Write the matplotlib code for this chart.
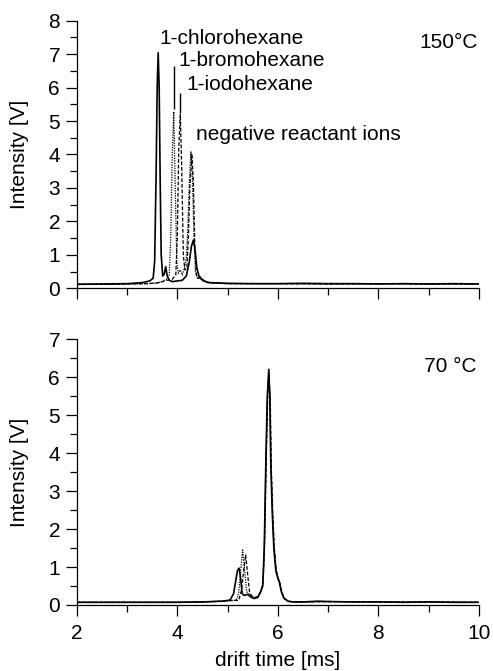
import matplotlib
matplotlib.use("Agg")
import matplotlib.pyplot as plt
from matplotlib.ticker import MultipleLocator

plt.rcParams['font.family'] = ['Liberation Sans', 'DejaVu Sans']

# ---------------- 150 °C data ----------------
chloro150_x = [2.0, 2.5, 3.0, 3.3, 3.45, 3.52, 3.55, 3.58, 3.60, 3.62, 3.64, 3.66, 3.68, 3.71,
               3.74, 3.77, 3.80, 3.84, 3.90, 4.00, 4.10, 4.18, 4.24, 4.28, 4.32, 4.35, 4.39,
               4.44, 4.52, 4.65, 5.0, 5.5, 6.0, 6.5, 7.0, 7.5, 8.0, 8.5, 9.0, 9.5, 10.0]
chloro150_y = [0.12, 0.13, 0.14, 0.17, 0.22, 0.30, 0.8, 3.5, 6.0, 7.04, 6.0, 3.2, 1.0, 0.37,
               0.42, 0.65, 0.37, 0.24, 0.20, 0.22, 0.24, 0.37, 0.8, 1.25, 1.44, 1.2, 0.6,
               0.32, 0.22, 0.17, 0.15, 0.14, 0.14, 0.15, 0.14, 0.14, 0.13, 0.14, 0.13, 0.14, 0.13]

bromo150_x = [2.0, 2.5, 3.0, 3.4, 3.6, 3.7, 3.78, 3.84, 3.87, 3.90, 3.93, 3.96, 3.99, 4.02,
              4.06, 4.10, 4.14, 4.18, 4.21, 4.24, 4.27, 4.30, 4.33, 4.36, 4.40, 4.45, 4.5,
              4.6, 5.0, 6.0, 7.0, 8.0, 9.0, 10.0]
bromo150_y = [0.12, 0.12, 0.13, 0.14, 0.16, 0.20, 0.27, 0.4, 1.5, 4.0, 5.28, 3.0, 0.8, 0.45,
              0.55, 0.4, 0.6, 0.9, 1.8, 3.2, 4.08, 3.4, 1.6, 0.5, 0.3, 0.35, 0.27,
              0.17, 0.14, 0.14, 0.13, 0.14, 0.13, 0.13]

iodo150_x = [2.0, 2.5, 3.0, 3.4, 3.6, 3.8, 3.9, 3.97, 4.00, 4.03, 4.06, 4.09, 4.12, 4.15,
             4.19, 4.22, 4.25, 4.29, 4.32, 4.35, 4.38, 4.42, 4.46, 4.5, 4.6, 5.0, 6.0,
             7.0, 8.0, 9.0, 10.0]
iodo150_y = [0.12, 0.12, 0.13, 0.14, 0.16, 0.24, 0.27, 0.4, 1.5, 4.2, 5.2, 3.5, 1.0, 0.55,
             0.6, 1.5, 3.0, 4.0, 3.2, 1.2, 0.4, 0.3, 0.35, 0.27, 0.17, 0.14, 0.14,
             0.13, 0.14, 0.13, 0.13]

# ---------------- 70 °C data ----------------
chloro70_x = [2.0, 2.5, 3.0, 3.5, 4.0, 4.5, 4.9, 5.05, 5.12, 5.17, 5.20, 5.23, 5.26, 5.29,
              5.33, 5.40, 5.47, 5.53, 5.60, 5.66, 5.70, 5.73, 5.76, 5.79, 5.82, 5.84, 5.86,
              5.89, 5.92, 5.96, 6.00, 6.03, 6.07, 6.12, 6.2, 6.3, 6.5, 6.8, 7.0, 7.5, 8.0,
              8.5, 9.0, 9.5, 10.0]
chloro70_y = [0.07, 0.07, 0.07, 0.07, 0.07, 0.08, 0.10, 0.13, 0.3, 0.7, 0.92, 0.97, 0.7, 0.3,
              0.25, 0.28, 0.20, 0.17, 0.20, 0.35, 0.5, 1.5, 3.7, 5.5, 6.21, 5.5, 3.7,
              2.4, 1.5, 0.9, 0.7, 0.6, 0.35, 0.18, 0.10, 0.08, 0.08, 0.10, 0.09, 0.08, 0.08,
              0.07, 0.08, 0.07, 0.07]

bromo70_x = [2.0, 2.5, 3.0, 3.5, 4.0, 4.5, 4.9, 5.1, 5.17, 5.22, 5.26, 5.30, 5.34, 5.38,
             5.45, 5.55, 5.62, 5.67, 5.70, 5.73, 5.76, 5.79, 5.82, 5.84, 5.86, 5.89, 5.92,
             5.96, 6.00, 6.03, 6.07, 6.12, 6.2, 6.3, 6.5, 7.0, 8.0, 9.0, 10.0]
bromo70_y = [0.07, 0.07, 0.07, 0.07, 0.07, 0.08, 0.10, 0.12, 0.12, 0.3, 0.9, 1.45, 0.9, 0.35,
             0.25, 0.18, 0.25, 0.4, 0.55, 1.5, 3.6, 5.4, 6.1, 5.5, 3.8, 2.5, 1.6,
             0.95, 0.72, 0.6, 0.35, 0.18, 0.10, 0.08, 0.08, 0.09, 0.08, 0.08, 0.07]

iodo70_x = [2.0, 2.5, 3.0, 3.5, 4.0, 4.5, 4.9, 5.1, 5.22, 5.28, 5.32, 5.36, 5.40, 5.44,
            5.50, 5.58, 5.64, 5.68, 5.71, 5.74, 5.77, 5.80, 5.82, 5.85, 5.87, 5.90, 5.93,
            5.97, 6.01, 6.04, 6.08, 6.13, 6.2, 6.3, 6.5, 7.0, 8.0, 9.0, 10.0]
iodo70_y = [0.07, 0.07, 0.07, 0.07, 0.07, 0.08, 0.10, 0.12, 0.12, 0.4, 0.9, 1.32, 0.8, 0.3,
            0.22, 0.2, 0.3, 0.45, 0.7, 1.8, 3.9, 5.6, 6.05, 5.4, 3.6, 2.4, 1.5,
            0.9, 0.7, 0.58, 0.33, 0.17, 0.10, 0.08, 0.08, 0.09, 0.08, 0.08, 0.07]

# annotation labels (150 °C)
label_texts = ["1-chlorohexane", "1-bromohexane", "1-iodohexane", "negative reactant ions"]
label_x = [3.64, 4.03, 4.19, 4.38]
label_y = [7.48, 6.82, 6.10, 4.60]
marker_x = [3.94, 4.06]
marker_ymin = [5.35, 5.25]
marker_ymax = [6.65, 5.85]

FS = 15

fig = plt.figure(figsize=(4.93, 6.71), dpi=100)
ax1 = fig.add_axes([0.1556, 0.5703, 0.816, 0.3989])
ax2 = fig.add_axes([0.1556, 0.0984, 0.816, 0.3959])

lw_solid = 1.2
lw_other = 0.9
for ax, (cx, cy, bx, by, ix, iy) in zip(
        [ax1, ax2],
        [(chloro150_x, chloro150_y, bromo150_x, bromo150_y, iodo150_x, iodo150_y),
         (chloro70_x, chloro70_y, bromo70_x, bromo70_y, iodo70_x, iodo70_y)]):
    ax.plot(ix, iy, color='black', lw=lw_other, linestyle=(0, (3, 1.5)))
    ax.plot(bx, by, color='black', lw=lw_other, linestyle=(0, (1, 1)))
    ax.plot(cx, cy, color='black', lw=lw_solid, linestyle='-')

ax1.set_ylim(0, 8)
ax2.set_ylim(0, 7)
for ax in (ax1, ax2):
    ax.set_xlim(2, 10)
    ax.spines['top'].set_visible(False)
    ax.spines['right'].set_visible(False)
    ax.spines['left'].set_linewidth(0.9)
    ax.spines['bottom'].set_linewidth(0.9)
    ax.xaxis.set_major_locator(MultipleLocator(2))
    ax.xaxis.set_minor_locator(MultipleLocator(1))
    ax.yaxis.set_major_locator(MultipleLocator(1))
    ax.yaxis.set_minor_locator(MultipleLocator(0.5))
    ax.tick_params(which='major', direction='out', length=8, width=0.9, labelsize=FS, pad=4)
    ax.tick_params(which='minor', direction='out', length=5, width=0.9)
    ax.set_ylabel("Intensity [V]", fontsize=FS)
    ax.yaxis.set_label_coords(-0.118, 0.5)

ax1.tick_params(axis='x', which='both', labelbottom=False)
ax2.tick_params(axis='x', which='major', pad=6)
ax2.set_xlabel("drift time [ms]", fontsize=FS)
ax2.xaxis.set_label_coords(0.5, -0.173)

for t, x, y in zip(label_texts, label_x, label_y):
    ax1.text(x, y, t, fontsize=FS, ha='left', va='center')
ax1.vlines(marker_x, marker_ymin, marker_ymax, color='black', lw=1.0)

ax1.text(0.998, 0.92, "150°C", transform=ax1.transAxes, fontsize=FS, ha='right', va='center')
ax2.text(0.993, 0.897, "70 °C", transform=ax2.transAxes, fontsize=FS, ha='right', va='center')

fig.savefig("out.png", dpi=100)
